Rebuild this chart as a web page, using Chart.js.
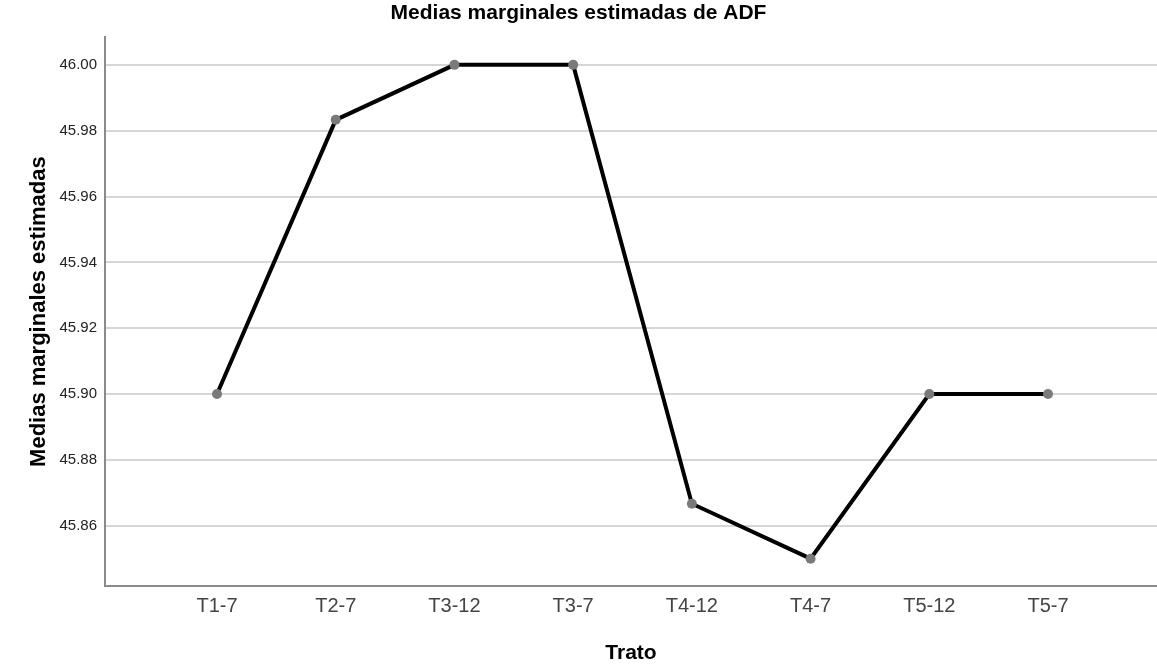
<!DOCTYPE html>
<html>
<head>
<meta charset="utf-8">
<script src="https://cdn.jsdelivr.net/npm/chart.js@4.4.0/dist/chart.umd.min.js"></script>
<style>
  html,body{margin:0;padding:0;background:#fff;overflow:hidden;}
  #wrap{width:1157px;height:666px;position:relative;}
</style>
</head>
<body>
<div id="wrap"><canvas id="adfChart"></canvas></div>
<script>
// datos
const categorias=['T1-7','T2-7','T3-12','T3-7','T4-12','T4-7','T5-12','T5-7'];
const medias=[45.90,45.9833,46.00,46.00,45.8667,45.85,45.90,45.90];
const ticksY=[45.86,45.88,45.90,45.92,45.94,45.96,45.98,46.00];

const fuente="Arial, 'Liberation Sans', sans-serif";

const canvas=document.getElementById('adfChart');
const chart=new Chart(canvas,{
  type:'line',
  data:{
    datasets:[{
      label:'ADF',
      data:medias.map((v,i)=>({x:i,y:v})),
      borderColor:'#000',
      borderWidth:4,
      tension:0,
      pointRadius:5,
      pointBackgroundColor:'#7a7a7a',
      pointBorderColor:'#7a7a7a',
      pointBorderWidth:0
    }]
  },
  options:{
    responsive:true,
    maintainAspectRatio:false,
    animation:false,
    layout:{padding:0,autoPadding:false},
    plugins:{
      legend:{display:false},
      tooltip:{enabled:false},
      title:{
        display:true,
        text:'Medias marginales estimadas de ADF',
        color:'#000',
        font:{family:fuente,size:21,weight:'bold'},
        padding:{top:1,bottom:11}
      }
    },
    scales:{
      x:{
        type:'linear',
        min:-0.9435,
        max:7.918,
        afterBuildTicks:s=>{ s.ticks=categorias.map((c,i)=>({value:i})); },
        afterFit:s=>{ s.height=80; s.paddingLeft=0; s.paddingRight=0; },
        grid:{display:false,drawTicks:false},
        border:{display:true,color:'#8a8a8a',width:2},
        ticks:{
          padding:8,
          color:'#444',
          font:{family:fuente,size:20},
          autoSkip:false,
          maxRotation:0,
          callback:(v)=>categorias[v]
        },
        title:{
          display:true,
          text:'Trato',
          color:'#000',
          font:{family:fuente,size:21,weight:'bold'},
          padding:{top:0,bottom:0}
        }
      },
      y:{
        min:45.8417,
        max:46.0084,
        afterBuildTicks:s=>{ s.ticks=ticksY.map(v=>({value:v})); },
        afterFit:s=>{ s.width=105; s.paddingTop=0; s.paddingBottom=0; },
        grid:{color:'#d6d6d6',lineWidth:2,drawTicks:false},
        border:{display:true,color:'#8a8a8a',width:2},
        ticks:{
          padding:8,
          color:'#222',
          font:{family:fuente,size:15},
          callback:v=>v.toFixed(2)
        },
        title:{
          display:true,
          text:'Medias marginales estimadas',
          color:'#000',
          font:{family:fuente,size:22,weight:'bold'},
          padding:{top:26,bottom:0}
        }
      }
    }
  }
});
</script>
</body>
</html>
